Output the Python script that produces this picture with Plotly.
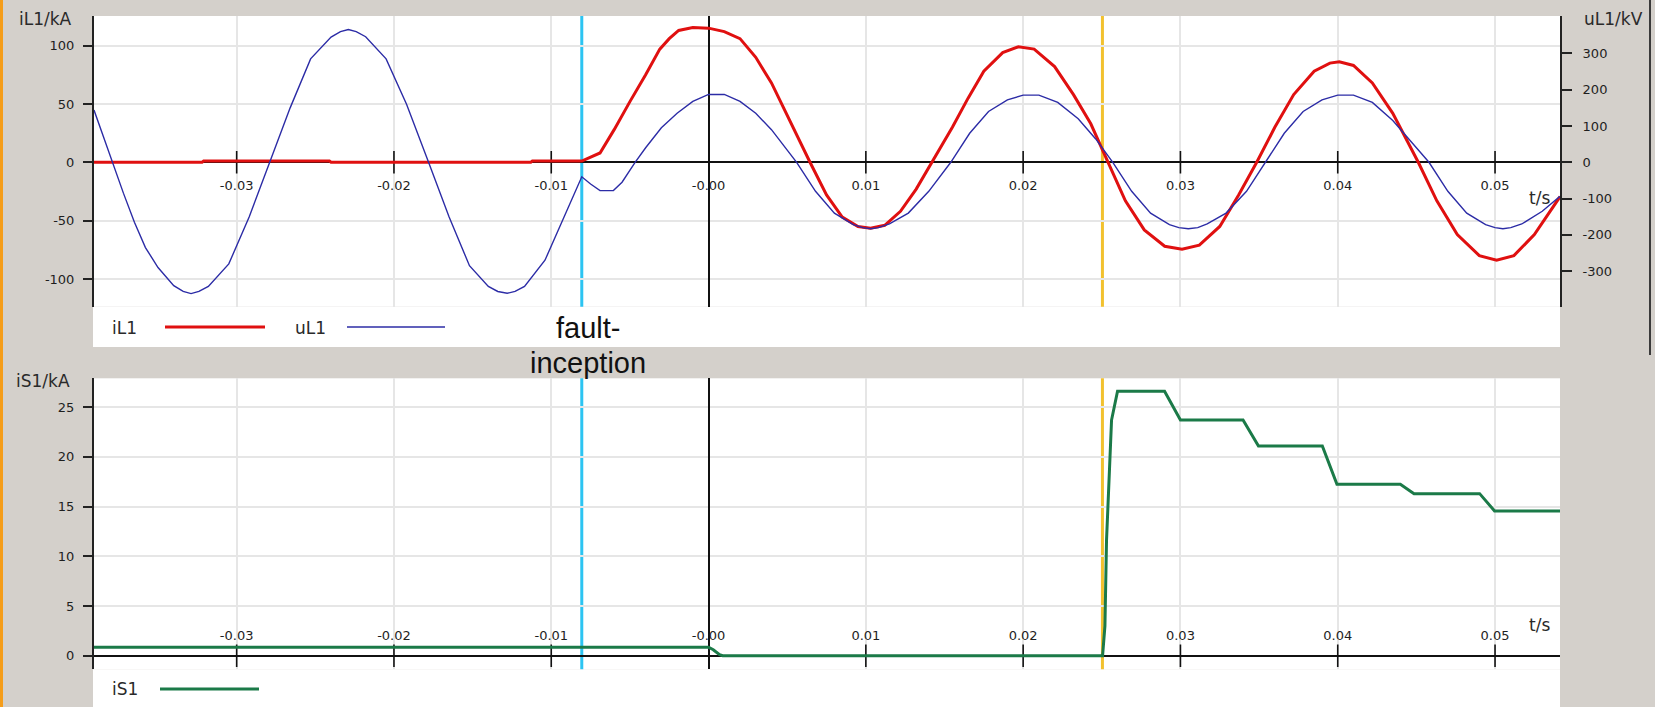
import plotly.graph_objects as go

# ---------------------------------------------------------------------------
# Recorded waveforms (time in s)
# ---------------------------------------------------------------------------
# Line current iL1 in kA
T_IL1 = [-0.03907, -0.0322, -0.0321, -0.0241, -0.0240, -0.0113, -0.0112, -0.00806,
         -0.0069, -0.0060, -0.0050, -0.0040, -0.0031, -0.0025, -0.0019, -0.0010,
         0.0000, 0.0010, 0.0020, 0.0030, 0.0040, 0.0050, 0.00645, 0.0075, 0.0085,
         0.0095, 0.0103, 0.0112, 0.0122, 0.0132, 0.01419, 0.0155, 0.0165, 0.0175,
         0.0187, 0.0197, 0.0207, 0.0220, 0.0232, 0.0243, 0.0254, 0.0265, 0.0277,
         0.0290, 0.0301, 0.0312, 0.0325, 0.0337, 0.03485, 0.0360, 0.0372, 0.0385,
         0.0395, 0.0401, 0.0410, 0.0422, 0.0435, 0.04512, 0.0463, 0.0476, 0.0490,
         0.0501, 0.0512, 0.0525, 0.05413]
IL1 = [0.0, 0.0, 1.0, 1.0, 0.0, 0.0, 1.0, 1.0,
       8, 28, 52, 75, 97, 106, 113, 115.5,
       115, 112, 106, 90, 68, 40, 0, -28, -47,
       -55, -56.5, -54, -42, -23, 0, 30, 55, 78,
       94, 99, 97, 82, 58, 33, 0, -33, -58,
       -72, -74.5, -71, -55, -28, 0, 30, 58, 78,
       85, 86.2, 83, 68, 42, 0, -33, -62, -80,
       -84, -80, -62, -29.5]

# Line voltage uL1 in kV
T_UL1 = [-0.03907, -0.0379, -0.0372, -0.0365, -0.0358, -0.0350, -0.0340, -0.0334,
         -0.0329, -0.0324, -0.0318, -0.0305, -0.0292, -0.0279, -0.0266, -0.0253,
         -0.0240, -0.0234, -0.0229, -0.0224, -0.0218, -0.0205, -0.0192, -0.0178,
         -0.0165, -0.0152, -0.0140, -0.0134, -0.0128, -0.0123, -0.0117, -0.0104,
         -0.0093, -0.00806, -0.0075, -0.0069, -0.00605, -0.0055, -0.00467, -0.0040,
         -0.0030, -0.0020, -0.0010, 0.0000, 0.0010, 0.0020, 0.0030, 0.0040, 0.0056,
         0.0068, 0.0080, 0.0092, 0.0098, 0.0103, 0.0108, 0.0115, 0.0127, 0.0140,
         0.0154, 0.0166, 0.0178, 0.0190, 0.0200, 0.0210, 0.0222, 0.0235, 0.0246,
         0.0257, 0.0269, 0.0281, 0.0293, 0.0299, 0.0305, 0.0311, 0.0317, 0.0329,
         0.0342, 0.0354, 0.0366, 0.0378, 0.0390, 0.0400, 0.0410, 0.0422, 0.0435,
         0.0446, 0.0458, 0.0470, 0.0482, 0.0494, 0.0500, 0.0505, 0.0510, 0.0517,
         0.0530, 0.05413]
UL1 = [144, 0, -85, -165, -235, -290, -340, -356,
       -362, -356, -342, -280, -150, 0, 150, 285,
       345, 360, 366, 360, 346, 285, 160, 0,
       -150, -285, -342, -356, -361, -356, -342, -270,
       -160, -40, -60, -78, -78, -55, 0, 40,
       95, 135, 168, 187, 187, 168, 135, 90, 0,
       -80, -140, -172, -180, -183, -180, -170, -140, -80,
       0, 80, 140, 172, 185, 185, 165, 120, 65,
       0, -80, -140, -172, -180, -183, -180, -170, -140,
       -80, 0, 80, 140, 172, 185, 185, 165, 115,
       60, 0, -80, -140, -172, -180, -183, -180, -170,
       -135, -94]

# Switch current iS1 in kA
T_IS1 = [-0.03907, 0.0000, 0.0003, 0.0007, 0.0009, 0.02505, 0.0252, 0.0253, 0.02562,
         0.0260, 0.02899, 0.0300, 0.03398, 0.03496, 0.03902, 0.03995, 0.04398,
         0.04485, 0.04902, 0.04997, 0.05413]
IS1 = [0.85, 0.85, 0.6, 0.1, 0.0, 0.0, 3.0, 11.6, 23.7,
       26.6, 26.6, 23.7, 23.7, 21.1, 21.1, 17.25, 17.25,
       16.3, 16.3, 14.56, 14.56]

# Event markers (s)
FAULT_T = -0.00806
TRIP_T = 0.02504

# Axis ticks
T_TICKS = [-0.03, -0.02, -0.01, 0.0, 0.01, 0.02, 0.03, 0.04, 0.05]
T_TICKTEXT = ["-0.03", "-0.02", "-0.01", "-0.00", "0.01", "0.02", "0.03", "0.04", "0.05"]
IL1_TICKS = [-100, -50, 0, 50, 100]
IL1_TICKTEXT = ["-100", "-50", "0", "50", "100"]
UL1_TICKS = [-300, -200, -100, 0, 100, 200, 300]
UL1_TICKTEXT = ["-300", "-200", "-100", "0", "100", "200", "300"]
IS1_TICKS = [0, 5, 10, 15, 20, 25]
IS1_TICKTEXT = ["0", "5", "10", "15", "20", "25"]

# Axis ranges
T_RANGE = [-0.03907, 0.05413]
IL1_RANGE = [-123.8, 125.4]
UL1_RANGE = [-398.0, 403.2]
IS1_RANGE = [-1.37, 27.9]

# ---------------------------------------------------------------------------
# Page geometry helpers
# ---------------------------------------------------------------------------
W, H = 1655, 707


def px_x(px):
    return px / W


def px_y(py):
    return 1 - py / H


PLOT_L, PLOT_R = 94, 1560
TOP_T, TOP_B = 16, 306.7
BOT_T, BOT_B = 378.3, 669.3

top_dom = [px_y(TOP_B), px_y(TOP_T)]
bot_dom = [px_y(BOT_B), px_y(BOT_T)]


def zero_pos(dom, rng):
    return dom[0] + (0 - rng[0]) / (rng[1] - rng[0]) * (dom[1] - dom[0])


BG = "#d4d0cb"
GRID = "#e6e6e6"
RED = "#e01010"
BLUE = "#2c2ca6"
GREEN = "#1b7a48"
CYAN = "#2cc4f2"
YELLOW = "#f2c12e"
TICK_FONT = dict(family="DejaVu Sans", size=13, color="#1e1e1e")
LABEL_FONT = dict(family="DejaVu Sans", size=17, color="#2a2a2a")
LEGEND_FONT = dict(family="DejaVu Sans", size=17, color="#2a2a2a")

fig = go.Figure()

# Cross ticks on the time axis line of each panel (at y = 0)
axis_ticks_t = [t for t in T_TICKS if t != 0]
tick_marker = dict(symbol="line-ns-open", size=16, color="#111111",
                   line=dict(color="#111111", width=1.6))
fig.add_trace(go.Scatter(x=axis_ticks_t, y=[0] * len(axis_ticks_t), mode="markers",
                         marker=tick_marker, xaxis="x", yaxis="y",
                         showlegend=False, hoverinfo="skip"))
fig.add_trace(go.Scatter(x=axis_ticks_t, y=[0] * len(axis_ticks_t), mode="markers",
                         marker=tick_marker, xaxis="x2", yaxis="y3",
                         showlegend=False, hoverinfo="skip"))

fig.add_trace(go.Scatter(x=T_IL1, y=IL1, mode="lines", name="iL1",
                         line=dict(color=RED, width=3), xaxis="x", yaxis="y",
                         showlegend=False))
fig.add_trace(go.Scatter(x=T_UL1, y=UL1, mode="lines", name="uL1",
                         line=dict(color=BLUE, width=1.4), xaxis="x", yaxis="y2",
                         showlegend=False))
fig.add_trace(go.Scatter(x=T_IS1, y=IS1, mode="lines", name="iS1",
                         line=dict(color=GREEN, width=3), xaxis="x2", yaxis="y3",
                         showlegend=False))

shapes = []

# Page decoration: legend panels, border stripes
shapes.append(dict(type="rect", xref="paper", yref="paper", layer="below",
                   x0=px_x(93), x1=px_x(PLOT_R), y0=px_y(347), y1=px_y(TOP_B),
                   fillcolor="white", line=dict(width=0)))
shapes.append(dict(type="rect", xref="paper", yref="paper", layer="below",
                   x0=px_x(93), x1=px_x(PLOT_R), y0=px_y(H), y1=px_y(BOT_B),
                   fillcolor="white", line=dict(width=0)))
shapes.append(dict(type="rect", xref="paper", yref="paper", layer="above",
                   x0=0, x1=px_x(3), y0=0, y1=1,
                   fillcolor="#f59d1a", line=dict(width=0)))
shapes.append(dict(type="line", xref="paper", yref="paper", layer="above",
                   x0=px_x(1650), x1=px_x(1650), y0=px_y(355), y1=1,
                   line=dict(color="#3a3a3a", width=2)))

# Event marker lines in both panels
for t, col in ((FAULT_T, CYAN), (TRIP_T, YELLOW)):
    shapes.append(dict(type="line", xref="x", yref="y domain", layer="below",
                       x0=t, x1=t, y0=0, y1=1, line=dict(color=col, width=3)))
    shapes.append(dict(type="line", xref="x2", yref="y3 domain", layer="below",
                       x0=t, x1=t, y0=0, y1=1, line=dict(color=col, width=3)))

# Legend samples
shapes.append(dict(type="line", xref="paper", yref="paper", x0=px_x(165), x1=px_x(265),
                   y0=px_y(327), y1=px_y(327), line=dict(color=RED, width=3)))
shapes.append(dict(type="line", xref="paper", yref="paper", x0=px_x(347), x1=px_x(445),
                   y0=px_y(327), y1=px_y(327), line=dict(color=BLUE, width=1.4)))
shapes.append(dict(type="line", xref="paper", yref="paper", x0=px_x(160), x1=px_x(259),
                   y0=px_y(689), y1=px_y(689), line=dict(color=GREEN, width=3)))

annotations = [
    dict(text="iL1/kA", x=px_x(45), y=px_y(19), font=LABEL_FONT),
    dict(text="uL1/kV", x=px_x(1613), y=px_y(19), font=LABEL_FONT),
    dict(text="iS1/kA", x=px_x(43), y=px_y(381), font=LABEL_FONT),
    dict(text="t/s", x=px_x(1539), y=px_y(198), font=LABEL_FONT),
    dict(text="t/s", x=px_x(1539), y=px_y(625), font=LABEL_FONT),
    dict(text="iL1", x=px_x(125), y=px_y(328), font=LEGEND_FONT),
    dict(text="uL1", x=px_x(310), y=px_y(328), font=LEGEND_FONT),
    dict(text="iS1", x=px_x(125), y=px_y(689), font=LEGEND_FONT),
    dict(text="fault-", x=px_x(588), y=px_y(328),
         font=dict(family="Liberation Sans", size=29, color="#111111")),
    dict(text="inception", x=px_x(588), y=px_y(363),
         font=dict(family="Liberation Sans", size=29, color="#111111")),
]
for a in annotations:
    a.update(xref="paper", yref="paper", showarrow=False,
             xanchor="center", yanchor="middle")

common_x = dict(range=T_RANGE, domain=[px_x(PLOT_L), px_x(PLOT_R)],
                tickvals=T_TICKS, ticktext=T_TICKTEXT, tickfont=TICK_FONT,
                showgrid=True, gridcolor=GRID, gridwidth=1.5,
                zeroline=True, zerolinecolor="#111111", zerolinewidth=1.6,
                showline=False, ticks="", anchor="free", fixedrange=True)

fig.update_layout(
    width=W, height=H,
    margin=dict(l=0, r=0, t=0, b=0),
    paper_bgcolor=BG, plot_bgcolor="white",
    showlegend=False,
    xaxis=dict(common_x, side="bottom",
               position=zero_pos(top_dom, IL1_RANGE), ticklabelstandoff=14),
    xaxis2=dict(common_x, side="top",
                position=zero_pos(bot_dom, IS1_RANGE), ticklabelstandoff=13),
    yaxis=dict(domain=top_dom, range=IL1_RANGE, tickvals=IL1_TICKS,
               ticktext=IL1_TICKTEXT, tickfont=TICK_FONT,
               showgrid=True, gridcolor=GRID, gridwidth=1.5,
               zeroline=True, zerolinecolor="#111111", zerolinewidth=1.6,
               showline=True, linecolor="#222222", linewidth=2,
               ticks="outside", ticklen=9, tickwidth=1.5, tickcolor="#222222",
               anchor="x", ticklabelstandoff=6, fixedrange=True),
    yaxis2=dict(domain=top_dom, range=UL1_RANGE, tickvals=UL1_TICKS,
                ticktext=UL1_TICKTEXT, tickfont=TICK_FONT,
                overlaying="y", side="right", anchor="x",
                showgrid=False, zeroline=False,
                showline=True, linecolor="#222222", linewidth=2,
                ticks="outside", ticklen=10, tickwidth=1.5, tickcolor="#222222",
                ticklabelstandoff=8, fixedrange=True),
    yaxis3=dict(domain=bot_dom, range=IS1_RANGE, tickvals=IS1_TICKS,
                ticktext=IS1_TICKTEXT, tickfont=TICK_FONT,
                showgrid=True, gridcolor=GRID, gridwidth=1.5,
                zeroline=True, zerolinecolor="#111111", zerolinewidth=1.6,
                showline=True, linecolor="#222222", linewidth=2,
                ticks="outside", ticklen=9, tickwidth=1.5, tickcolor="#222222",
                anchor="x2", ticklabelstandoff=6, fixedrange=True),
    shapes=shapes,
    annotations=annotations,
)

fig.write_html("out.html")
